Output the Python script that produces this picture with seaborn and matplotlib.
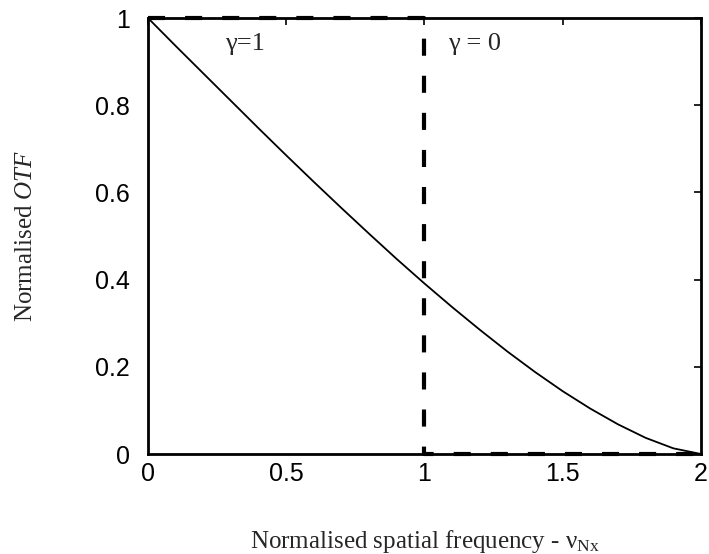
import numpy as np
import pandas as pd
import seaborn as sns
import matplotlib
matplotlib.use('Agg')
import matplotlib.pyplot as plt

# values
freq = [0.0, 0.1, 0.2, 0.3, 0.4, 0.5, 0.6, 0.7, 0.8, 0.9, 1.0,
        1.1, 1.2, 1.3, 1.4, 1.5, 1.6, 1.7, 1.8, 1.9, 2.0]
otf_g1 = [1.0, 0.936, 0.873, 0.810, 0.747, 0.685, 0.624, 0.564, 0.505, 0.447, 0.391,
          0.337, 0.285, 0.235, 0.188, 0.144, 0.104, 0.068, 0.037, 0.013, 0.0]
step_x = [0.0, 1.0, 1.0, 2.0]
step_y = [1.0, 1.0, 0.0, 0.0]
xticks = [0, 0.5, 1, 1.5, 2]
xticklabels = ['0', '0.5', '1', '1.5', '2']
yticks = [0, 0.2, 0.4, 0.6, 0.8, 1]
yticklabels = ['0', '0.2', '0.4', '0.6', '0.8', '1']

df_curve = pd.DataFrame({'freq': freq, 'otf': otf_g1})
df_step = pd.DataFrame({'freq': step_x, 'otf': step_y})

sns.set_style('white')
plt.rcParams['font.family'] = ['Liberation Sans', 'DejaVu Sans']
plt.rcParams['mathtext.fontset'] = 'custom'
plt.rcParams['mathtext.rm'] = 'Liberation Serif'
plt.rcParams['mathtext.it'] = 'Liberation Serif:italic'
serif = ['Liberation Serif', 'DejaVu Serif']

fig = plt.figure(figsize=(7.09, 5.54), dpi=100)
ax = fig.add_axes([0.2087, 0.1805, 0.7800, 0.7870])

sns.lineplot(data=df_curve, x='freq', y='otf', color='black', linewidth=1.3,
             sort=False, estimator=None, ax=ax)
sns.lineplot(data=df_step, x='freq', y='otf', color='black', linewidth=3.0,
             sort=False, estimator=None, ax=ax,
             linestyle=(0, (4.1, 4.8)), clip_on=False)

ax.set_xlim(0, 2)
ax.set_ylim(0, 1)
ax.set_xticks(xticks)
ax.set_xticklabels(xticklabels)
ax.set_yticks(yticks)
ax.set_yticklabels(yticklabels)
ax.tick_params(direction='in', length=5, width=1.2, labelsize=18,
               color='black', labelcolor='black')
ax.tick_params(axis='y', pad=13)
ax.tick_params(axis='x', pad=6)
ax.tick_params(top=True, right=True, labeltop=False, labelright=False)
for s in ax.spines.values():
    s.set_color('black')
    s.set_linewidth(2.0)

ax.set_xlabel('Normalised spatial frequency - ν$_{\\mathregular{Nx}}$',
              family=serif, fontsize=18, labelpad=30)
ax.set_ylabel(r'Normalised $\mathit{OTF}$', family=serif, fontsize=18, labelpad=42)

ax.text(0.28, 0.94, 'γ=1', family=serif, fontsize=19, ha='left', va='center')
ax.text(1.085, 0.94, 'γ = 0', family=serif, fontsize=19, ha='left', va='center')

fig.savefig('out.png', dpi=100)
